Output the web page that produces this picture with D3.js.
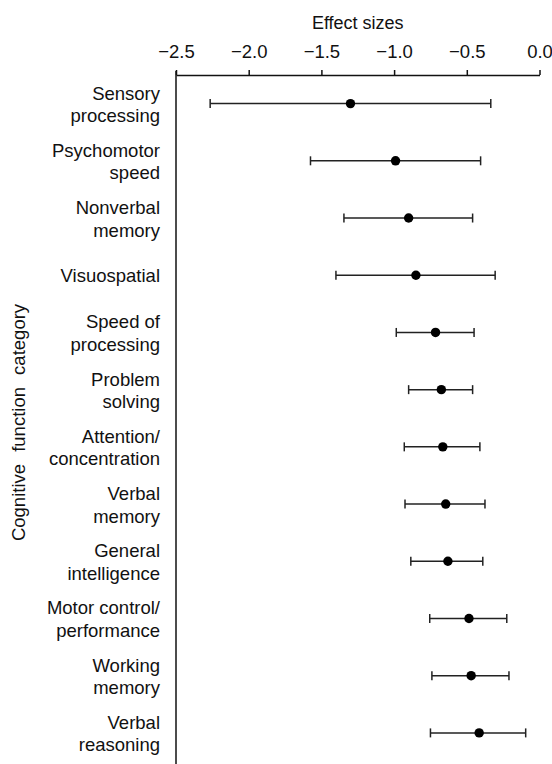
<!DOCTYPE html>
<html>
<head>
<meta charset="utf-8">
<script src="https://cdn.jsdelivr.net/npm/d3@7"></script>
<style>
  body { margin: 0; background: #fff; }
  text { font-family: "Liberation Sans", Arial, sans-serif; fill: #111; }
</style>
</head>
<body>
<div id="chart"></div>
<script>
// Categories, top to bottom; "\n" splits the label lines
let categories = [
    "Sensory\nprocessing", "Psychomotor\nspeed", "Nonverbal\nmemory", "Visuospatial",
    "Speed of\nprocessing", "Problem\nsolving", "Attention/\nconcentration", "Verbal\nmemory",
    "General\nintelligence", "Motor control/\nperformance", "Working\nmemory", "Verbal\nreasoning"
];
let effect = [-1.30, -0.99, -0.90, -0.85, -0.715, -0.675, -0.665, -0.645, -0.63, -0.485, -0.47, -0.415];
let lower  = [-2.265, -1.575, -1.345, -1.40, -0.985, -0.90, -0.93, -0.925, -0.885, -0.755, -0.74, -0.75];
let upper  = [-0.335, -0.405, -0.46, -0.305, -0.45, -0.46, -0.41, -0.375, -0.39, -0.225, -0.21, -0.095];
let xTicks = [-2.5, -2.0, -1.5, -1.0, -0.5, 0.0];

let width = 552, height = 764;
let margin = {left: 176, right: 539.5, top: 75, bottom: 761.5};

let svg = d3.select("#chart").append("svg")
    .attr("width", width)
    .attr("height", height);

let x = d3.scaleLinear().domain([-2.5, 0]).range([margin.left, margin.right]);
let y = d3.scaleBand().domain(categories).range([margin.top, margin.bottom]);

let rows = categories.map(function(c, i) {
    return {cat: c, mean: effect[i], lo: lower[i], hi: upper[i]};
});

// Top axis
let xAxis = svg.append("g")
    .attr("transform", "translate(0," + margin.top + ")")
    .call(d3.axisTop(x)
        .tickValues(xTicks)
        .tickSize(5)
        .tickSizeOuter(0)
        .tickPadding(12)
        .tickFormat(function(d) { return d3.format(".1f")(d).replace("-", "\u2212"); }));
xAxis.selectAll("path, line").attr("stroke", "#111").attr("stroke-width", 1.5);
xAxis.selectAll("text").style("font-size", "18.5px").attr("fill", "#111")
    .style("font-family", "'Liberation Sans', Arial, sans-serif");

svg.append("text")
    .attr("x", (margin.left + margin.right) / 2)
    .attr("y", 29)
    .attr("text-anchor", "middle")
    .style("font-size", "18px")
    .text("Effect sizes");

// Left axis line
svg.append("line")
    .attr("x1", margin.left).attr("x2", margin.left)
    .attr("y1", margin.top - 4).attr("y2", height)
    .attr("stroke", "#111")
    .attr("stroke-width", 1.5);

// Category labels
let yAxis = svg.append("g")
    .attr("transform", "translate(" + margin.left + ",0)")
    .call(d3.axisLeft(y).tickSize(0).tickPadding(16));
yAxis.select(".domain").remove();
yAxis.selectAll("text")
    .style("font-size", "18.5px")
    .style("font-family", "'Liberation Sans', Arial, sans-serif")
    .attr("fill", "#111")
    .attr("dy", null)
    .each(function(d) {
        let lines = d.split("\n");
        let t = d3.select(this).text(null);
        if (lines.length === 1) {
            t.append("tspan").attr("x", -16).attr("dy", "0.35em").text(lines[0]);
        } else {
            t.append("tspan").attr("x", -16).attr("dy", "-4px").text(lines[0]);
            t.append("tspan").attr("x", -16).attr("dy", "22.5px").text(lines[1]);
        }
    });

svg.append("text")
    .attr("transform", "translate(24.5," + 422.5 + ") rotate(-90)")
    .attr("text-anchor", "middle")
    .style("font-size", "18.5px")
    .style("word-spacing", "7px")
    .text("Cognitive function category");

// Error bars
let bars = svg.append("g").selectAll("g")
    .data(rows)
    .enter()
    .append("g")
    .attr("transform", function(d) { return "translate(0," + (y(d.cat) + y.bandwidth() / 2) + ")"; });

bars.append("line")
    .attr("x1", function(d) { return x(d.lo); })
    .attr("x2", function(d) { return x(d.hi); })
    .attr("stroke", "#222")
    .attr("stroke-width", 1.5);

bars.selectAll(".cap")
    .data(function(d) { return [d.lo, d.hi]; })
    .enter()
    .append("line")
    .attr("class", "cap")
    .attr("x1", function(v) { return x(v); })
    .attr("x2", function(v) { return x(v); })
    .attr("y1", -4.5)
    .attr("y2", 4.5)
    .attr("stroke", "#222")
    .attr("stroke-width", 1.5);

bars.append("circle")
    .attr("cx", function(d) { return x(d.mean); })
    .attr("r", 4.7)
    .attr("fill", "#000");
</script>
</body>
</html>
